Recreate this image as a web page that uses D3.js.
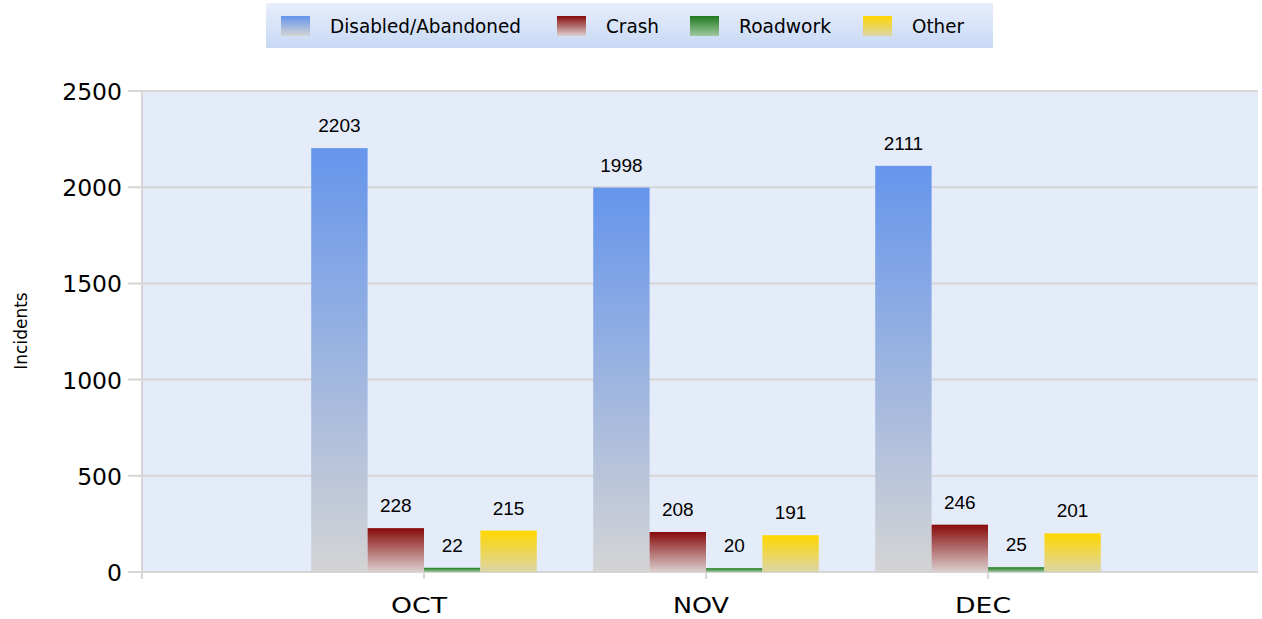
<!DOCTYPE html>
<html>
<head>
<meta charset="utf-8">
<script src="https://cdn.jsdelivr.net/npm/d3@7"></script>
<style>
  body { margin: 0; background: #fff; }
  svg { display: block; }
</style>
</head>
<body>
<svg width="1262" height="619"></svg>
<script>
const months = ["OCT", "NOV", "DEC"];
const series = ["Disabled/Abandoned", "Crash", "Roadwork", "Other"];
const disabled = [2203, 1998, 2111];
const crash = [228, 208, 246];
const roadwork = [22, 20, 25];
const other = [215, 191, 201];
const yTicks = [0, 500, 1000, 1500, 2000, 2500];

const values = [disabled, crash, roadwork, other];
const topColors = ["#6595ec", "#880b0b", "#1f7a1f", "#ffd700"];
const bottomColors = ["#d4d4d4", "#dcd0d0", "#9fc89f", "#dcd5a8"];

const width = 1262;
const height = 619;
const plot = { left: 143, right: 1258, top: 90, bottom: 572 };

const svg = d3.select("svg");
const defs = svg.append("defs");

series.forEach((s, i) => {
  const g = defs
    .append("linearGradient")
    .attr("id", "grad" + i)
    .attr("x1", 0)
    .attr("y1", 0)
    .attr("x2", 0)
    .attr("y2", 1);
  g.append("stop").attr("offset", "0%").attr("stop-color", topColors[i]);
  g.append("stop").attr("offset", "100%").attr("stop-color", bottomColors[i]);
});

const legendGrad = defs
  .append("linearGradient")
  .attr("id", "legendBg")
  .attr("x1", 0)
  .attr("y1", 0)
  .attr("x2", 0)
  .attr("y2", 1);
legendGrad.append("stop").attr("offset", "0%").attr("stop-color", "#e8eefb");
legendGrad.append("stop").attr("offset", "100%").attr("stop-color", "#c8d9f5");

const yScale = d3.scaleLinear().domain([0, 2500]).range([plot.bottom, 91]);
const x0 = d3.scaleBand().domain(months).range([283, 1129]).padding(0);
const x1 = d3
  .scaleBand()
  .domain(series)
  .range([0, x0.bandwidth()])
  .paddingInner(0)
  .paddingOuter(0.5);

// plot background
svg
  .append("rect")
  .attr("x", plot.left)
  .attr("y", plot.top)
  .attr("width", plot.right - plot.left)
  .attr("height", plot.bottom - plot.top)
  .attr("fill", "#e5ecf9");

// gridlines
svg
  .append("g")
  .selectAll("line")
  .data(yTicks)
  .join("line")
  .attr("x1", 128)
  .attr("x2", plot.right)
  .attr("y1", (d) => yScale(d))
  .attr("y2", (d) => yScale(d))
  .attr("stroke", "#d6d6d6")
  .attr("stroke-width", 2);

// y axis line
svg
  .append("line")
  .attr("x1", 142)
  .attr("x2", 142)
  .attr("y1", plot.top)
  .attr("y2", 579)
  .attr("stroke", "#d6d6d6")
  .attr("stroke-width", 2);

// y tick labels
svg
  .append("g")
  .selectAll("text")
  .data(yTicks)
  .join("text")
  .attr("x", 122)
  .attr("y", (d) => yScale(d) + 9)
  .attr("text-anchor", "end")
  .attr("font-family", "DejaVu Sans")
  .attr("font-size", 23.5)
  .attr("fill", "#000")
  .text((d) => d);

// x ticks and labels
const xAxis = svg.append("g");
xAxis
  .selectAll("line")
  .data(months)
  .join("line")
  .attr("x1", (d) => x0(d) + x0.bandwidth() / 2)
  .attr("x2", (d) => x0(d) + x0.bandwidth() / 2)
  .attr("y1", plot.bottom)
  .attr("y2", 579)
  .attr("stroke", "#d6d6d6")
  .attr("stroke-width", 2);
xAxis
  .selectAll("text")
  .data(months)
  .join("text")
  .attr("x", (d) => x0(d) + x0.bandwidth() / 2 - 5)
  .attr("y", 613)
  .attr("text-anchor", "middle")
  .attr("font-family", "DejaVu Sans")
  .attr("font-size", 22)
  .attr("textLength", 56)
  .attr("lengthAdjust", "spacingAndGlyphs")
  .text((d) => d);

// axis title
svg
  .append("text")
  .attr("transform", "rotate(-90)")
  .attr("x", -331)
  .attr("y", 27)
  .attr("text-anchor", "middle")
  .attr("font-family", "DejaVu Sans")
  .attr("font-size", 17)
  .text("Incidents");

// bars
const groups = svg
  .append("g")
  .selectAll("g")
  .data(months)
  .join("g")
  .attr("transform", (d) => `translate(${x0(d)},0)`);

groups
  .selectAll("rect")
  .data((m, mi) => series.map((s, si) => ({ s, si, v: values[si][mi] })))
  .join("rect")
  .attr("x", (d) => x1(d.s))
  .attr("y", (d) => yScale(d.v))
  .attr("width", x1.bandwidth())
  .attr("height", (d) => yScale(0) - yScale(d.v))
  .attr("fill", (d) => `url(#grad${d.si})`);

groups
  .selectAll("text")
  .data((m, mi) => series.map((s, si) => ({ s, si, v: values[si][mi] })))
  .join("text")
  .attr("x", (d) => x1(d.s) + x1.bandwidth() / 2)
  .attr("y", (d) => yScale(d.v) - 16)
  .attr("text-anchor", "middle")
  .attr("font-family", "Liberation Sans, Arial, sans-serif")
  .attr("font-size", 19)
  .text((d) => d.v);

// legend
const legend = svg.append("g");
legend
  .append("rect")
  .attr("x", 266)
  .attr("y", 3)
  .attr("width", 727)
  .attr("height", 45)
  .attr("fill", "url(#legendBg)");

const legendX = [281, 557, 690, 863];
const items = legend
  .selectAll("g")
  .data(series)
  .join("g")
  .attr("transform", (d, i) => `translate(${legendX[i]},16)`);
items
  .append("rect")
  .attr("width", 29)
  .attr("height", 20)
  .attr("fill", (d, i) => `url(#grad${i})`);
items
  .append("text")
  .attr("x", 49)
  .attr("y", 17)
  .attr("font-family", "DejaVu Sans")
  .attr("font-size", 19)
  .attr("textLength", (d, i) => [191, 53, 92, 52][i])
  .attr("lengthAdjust", "spacingAndGlyphs")
  .text((d) => d);
</script>
</body>
</html>
